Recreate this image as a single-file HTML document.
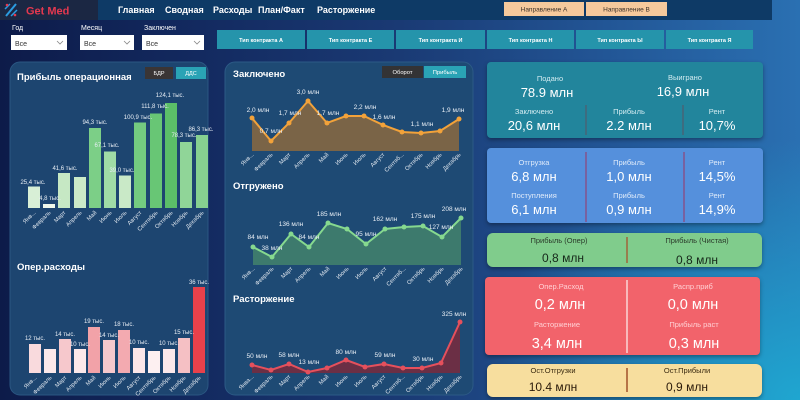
<!DOCTYPE html>
<html><head><meta charset="utf-8">
<style>
html,body{margin:0;padding:0;}
body{width:800px;height:400px;overflow:hidden;
background:radial-gradient(ellipse 320px 260px at 800px 400px,#1fa6d0 0%,rgba(31,166,208,0) 100%),linear-gradient(90deg,#0d1b49 0%,#132a60 25%,#1a3a74 50%,#225595 75%,#2a70b2 100%);
font-family:"Liberation Sans","Noto Sans CJK SC",sans-serif;}
svg{position:absolute;left:0;top:0;}
text{font-family:"Liberation Sans","Noto Sans CJK SC",sans-serif;}
</style></head><body>
<svg width="800" height="400" viewBox="0 0 800 400" xmlns="http://www.w3.org/2000/svg">
<!-- header -->
<rect x="0" y="0" width="772" height="20" fill="#0e3a66"/>
<rect x="0" y="0" width="98" height="20" fill="#1b2743"/>
<line x1="6" y1="16" x2="16" y2="4" stroke="#2b9be0" stroke-width="2"/>
<line x1="5" y1="9" x2="10" y2="4" stroke="#2b9be0" stroke-width="1.5"/>
<line x1="11" y1="16" x2="17" y2="10" stroke="#2b9be0" stroke-width="1.5"/>
<circle cx="7" cy="5" r="1.3" fill="#e5384f"/><circle cx="15" cy="15" r="1.3" fill="#e5384f"/>
<text x="26" y="14.5" font-size="11" font-weight="bold" fill="#e5384f">Get Med</text>
<g font-size="9" font-weight="bold" fill="#ffffff">
<text x="118" y="13">Главная</text>
<text x="165" y="13">Сводная</text>
<text x="213" y="13">Расходы</text>
<text x="258" y="13">План/Факт</text>
<text x="317" y="13">Расторжение</text>
</g>
<rect x="504" y="2" width="80" height="14" fill="#f5c99c"/>
<rect x="586" y="2" width="81" height="14" fill="#f5c99c"/>
<g font-size="6.5" fill="#3a3028" text-anchor="middle">
<text x="544" y="11.5">Направление А</text>
<text x="626.5" y="11.5">Направление B</text>
</g>
<!-- filters -->
<g font-size="7" fill="#ffffff">
<text x="12" y="30">Год</text><text x="81" y="30">Месяц</text><text x="144" y="30">Заключен</text>
</g>
<rect x="11" y="35" width="56" height="15" fill="#ffffff"/>
<rect x="80" y="35" width="54" height="15" fill="#ffffff"/>
<rect x="142" y="35" width="62" height="15" fill="#ffffff"/>
<g font-size="7" fill="#333">
<text x="15" y="46">Все</text><text x="84" y="46">Все</text><text x="146" y="46">Все</text>
</g>
<g fill="none" stroke="#888" stroke-width="0.8">
<polyline points="57,41 60,44 63,41"/><polyline points="124,41 127,44 130,41"/><polyline points="194,41 197,44 200,41"/>
</g>
<!-- contract buttons -->
<g fill="#2594ab">
<rect x="217" y="30" width="88" height="19"/><rect x="307" y="30" width="87" height="19"/>
<rect x="396" y="30" width="89" height="19"/><rect x="487" y="30" width="87" height="19"/>
<rect x="576" y="30" width="88" height="19"/><rect x="666" y="30" width="87" height="19"/>
</g>
<g font-size="5.5" font-weight="bold" fill="#ffffff" text-anchor="middle">
<text x="261" y="42">Тип контракта А</text><text x="350.5" y="42">Тип контракта Е</text>
<text x="440.5" y="42">Тип контракта И</text><text x="530.5" y="42">Тип контракта Н</text>
<text x="620" y="42">Тип контракта Ы</text><text x="709.5" y="42">Тип контракта Я</text>
</g>
<!-- panels -->
<rect x="10" y="62" width="198" height="333" rx="10" fill="#1d4570" stroke="#2a5682" stroke-width="1"/>
<rect x="225" y="62" width="248" height="333" rx="10" fill="#1e4a74" stroke="#2c5a86" stroke-width="1"/>

<!-- left panel: profit -->
<text x="17" y="80" font-size="9.5" font-weight="bold" fill="#ffffff">Прибыль операционная</text>
<rect x="145" y="67" width="28" height="12" fill="#3a3535"/>
<rect x="176" y="67" width="30" height="12" fill="#2aa3b5"/>
<g font-size="5.5" fill="#ffffff" text-anchor="middle"><text x="159" y="75">БДР</text><text x="191" y="75">ДДС</text></g>
<g>
<rect x="28" y="186.5" width="12" height="21.5" fill="#d8efd6"/>
<rect x="43" y="204" width="12" height="4" fill="#eef8ec"/>
<rect x="58" y="173" width="12" height="35" fill="#c6e8c4"/>
<rect x="74" y="177" width="12" height="31" fill="#cbeac8"/>
<rect x="89" y="128" width="12" height="80" fill="#7ccf87"/>
<rect x="104" y="151.5" width="12" height="56.5" fill="#a0dca6"/>
<rect x="119" y="175.5" width="12" height="32.5" fill="#c9e9c7"/>
<rect x="134" y="122.5" width="12" height="85.5" fill="#74cb80"/>
<rect x="150" y="113.5" width="12" height="94.5" fill="#68c675"/>
<rect x="165" y="103" width="12" height="105" fill="#5bbf68"/>
<rect x="180" y="142" width="12" height="66" fill="#90d598"/>
<rect x="196" y="135" width="12" height="73" fill="#86d190"/>
</g>
<g font-size="6" fill="#e8eef5" text-anchor="middle">
<text x="33" y="184">25,4 тыс.</text><text x="50" y="200">4,8 тыс.</text>
<text x="65" y="170">41,6 тыс.</text><text x="95" y="124">94,3 тыс.</text>
<text x="107" y="147">67,1 тыс.</text><text x="122" y="172">39,0 тыс.</text>
<text x="138" y="119">100,9 тыс.</text><text x="155" y="108">111,8 тыс.</text>
<text x="170" y="97">124,1 тыс.</text><text x="184" y="137">78,3 тыс.</text>
<text x="201" y="131">86,3 тыс.</text>
</g>
<g font-size="5.8" fill="#dfe6ee" text-anchor="end">
<text transform="translate(36,213) rotate(-45)">Янв...</text>
<text transform="translate(51,213) rotate(-45)">Февраль</text>
<text transform="translate(66,213) rotate(-45)">Март</text>
<text transform="translate(82,213) rotate(-45)">Апрель</text>
<text transform="translate(97,213) rotate(-45)">Май</text>
<text transform="translate(112,213) rotate(-45)">Июнь</text>
<text transform="translate(127,213) rotate(-45)">Июль</text>
<text transform="translate(142,213) rotate(-45)">Август</text>
<text transform="translate(158,213) rotate(-45)">Сентябрь</text>
<text transform="translate(173,213) rotate(-45)">Октябрь</text>
<text transform="translate(188,213) rotate(-45)">Ноябрь</text>
<text transform="translate(204,213) rotate(-45)">Декабрь</text>
</g>

<!-- left panel: opex -->
<text x="17" y="270" font-size="9.5" font-weight="bold" fill="#ffffff">Опер.расходы</text>
<g>
<rect x="29" y="344" width="12" height="29" fill="#f9dadd"/>
<rect x="44" y="349" width="12" height="24" fill="#fbe8ea"/>
<rect x="59" y="339" width="12" height="34" fill="#f6c8cc"/>
<rect x="74" y="349" width="12" height="24" fill="#fbe8ea"/>
<rect x="88" y="327" width="12" height="46" fill="#f2a2a8"/>
<rect x="103" y="340" width="12" height="33" fill="#f6c8cc"/>
<rect x="118" y="330" width="12" height="43" fill="#f3aab0"/>
<rect x="133" y="348" width="12" height="25" fill="#fbe6e8"/>
<rect x="148" y="351" width="12" height="22" fill="#fdf0f1"/>
<rect x="163" y="349" width="12" height="24" fill="#fbe8ea"/>
<rect x="178" y="338" width="12" height="35" fill="#f5c0c4"/>
<rect x="193" y="287" width="12" height="86" fill="#e8414b"/>
</g>
<g font-size="6" fill="#e8eef5" text-anchor="middle">
<text x="35" y="340">12 тыс.</text><text x="65" y="336">14 тыс.</text>
<text x="80" y="346">10 тыс.</text><text x="94" y="323">19 тыс.</text>
<text x="109" y="337">14 тыс.</text><text x="124" y="326">18 тыс.</text>
<text x="139" y="344">10 тыс.</text><text x="169" y="345">10 тыс.</text>
<text x="184" y="334">15 тыс.</text><text x="199" y="284">36 тыс.</text>
</g>
<g font-size="5.8" fill="#dfe6ee" text-anchor="end">
<text transform="translate(37,378) rotate(-45)">Янв...</text>
<text transform="translate(52,378) rotate(-45)">Февраль</text>
<text transform="translate(67,378) rotate(-45)">Март</text>
<text transform="translate(82,378) rotate(-45)">Апрель</text>
<text transform="translate(96,378) rotate(-45)">Май</text>
<text transform="translate(111,378) rotate(-45)">Июнь</text>
<text transform="translate(126,378) rotate(-45)">Июль</text>
<text transform="translate(141,378) rotate(-45)">Август</text>
<text transform="translate(156,378) rotate(-45)">Сентябрь</text>
<text transform="translate(171,378) rotate(-45)">Октябрь</text>
<text transform="translate(186,378) rotate(-45)">Ноябрь</text>
<text transform="translate(201,378) rotate(-45)">Декабрь</text>
</g>

<!-- middle: Заключено -->
<text x="233" y="77" font-size="9.5" font-weight="bold" fill="#ffffff">Заключено</text>
<rect x="382" y="66" width="41" height="12" fill="#333335"/>
<rect x="424" y="66" width="42" height="12" fill="#2aa3b5"/>
<g font-size="5.8" fill="#ffffff" text-anchor="middle"><text x="402.5" y="74">Оборот</text><text x="445" y="74">Прибыль</text></g>
<polygon points="252,151 252,118 271,141 289,123 308,101 327,123 346,116 364,116 383,125 402,132 421,133 440,131 459,119 459,151" fill="#7a6447"/>
<polyline points="252,118 271,141 289,123 308,101 327,123 346,116 364,116 383,125 402,132 421,133 440,131 459,119" fill="none" stroke="#f2a23a" stroke-width="2"/>
<g fill="#f2a23a">
<circle cx="252" cy="118" r="2.5"/><circle cx="271" cy="141" r="2.5"/><circle cx="289" cy="123" r="2.5"/><circle cx="308" cy="101" r="2.5"/><circle cx="327" cy="123" r="2.5"/><circle cx="346" cy="116" r="2.5"/><circle cx="364" cy="116" r="2.5"/><circle cx="383" cy="125" r="2.5"/><circle cx="402" cy="132" r="2.5"/><circle cx="421" cy="133" r="2.5"/><circle cx="440" cy="131" r="2.5"/><circle cx="459" cy="119" r="2.5"/>
</g>
<g font-size="6.5" fill="#e8eef5" text-anchor="middle">
<text x="258" y="112">2,0 млн</text><text x="271" y="133">0,7 млн</text><text x="290" y="115">1,7 млн</text>
<text x="308" y="94">3,0 млн</text><text x="328" y="115">1,7 млн</text><text x="365" y="109">2,2 млн</text>
<text x="384" y="119">1,6 млн</text><text x="422" y="126">1,1 млн</text><text x="453" y="112">1,9 млн</text>
</g>
<g font-size="5.8" fill="#dfe6ee" text-anchor="end">
<text transform="translate(254,155) rotate(-45)">Янв...</text>
<text transform="translate(273,155) rotate(-45)">Февраль</text>
<text transform="translate(291,155) rotate(-45)">Март</text>
<text transform="translate(310,155) rotate(-45)">Апрель</text>
<text transform="translate(329,155) rotate(-45)">Май</text>
<text transform="translate(348,155) rotate(-45)">Июнь</text>
<text transform="translate(366,155) rotate(-45)">Июль</text>
<text transform="translate(385,155) rotate(-45)">Август</text>
<text transform="translate(404,155) rotate(-45)">Сентяб...</text>
<text transform="translate(423,155) rotate(-45)">Октябрь</text>
<text transform="translate(442,155) rotate(-45)">Ноябрь</text>
<text transform="translate(461,155) rotate(-45)">Декабрь</text>
</g>

<!-- middle: Отгружено -->
<text x="233" y="189" font-size="9.5" font-weight="bold" fill="#ffffff">Отгружено</text>
<polygon points="253,265 253,247 272,257 291,234 309,247 328,223 347,229 366,244 385,229 404,227 423,226 442,237 461,218 461,265" fill="#3d7a6d"/>
<polyline points="253,247 272,257 291,234 309,247 328,223 347,229 366,244 385,229 404,227 423,226 442,237 461,218" fill="none" stroke="#86d98f" stroke-width="2"/>
<g fill="#86d98f">
<circle cx="253" cy="247" r="2.5"/><circle cx="272" cy="257" r="2.5"/><circle cx="291" cy="234" r="2.5"/><circle cx="309" cy="247" r="2.5"/><circle cx="328" cy="223" r="2.5"/><circle cx="347" cy="229" r="2.5"/><circle cx="366" cy="244" r="2.5"/><circle cx="385" cy="229" r="2.5"/><circle cx="404" cy="227" r="2.5"/><circle cx="423" cy="226" r="2.5"/><circle cx="442" cy="237" r="2.5"/><circle cx="461" cy="218" r="2.5"/>
</g>
<g font-size="6.5" fill="#e8eef5" text-anchor="middle">
<text x="258" y="239">84 млн</text><text x="272" y="250">38 млн</text><text x="291" y="226">136 млн</text>
<text x="309" y="239">84 млн</text><text x="329" y="216">185 млн</text><text x="366" y="236">95 млн</text>
<text x="385" y="221">162 млн</text><text x="423" y="218">175 млн</text><text x="441" y="229">127 млн</text>
<text x="454" y="211">208 млн</text>
</g>
<g font-size="5.8" fill="#dfe6ee" text-anchor="end">
<text transform="translate(255,269) rotate(-45)">Янв...</text>
<text transform="translate(274,269) rotate(-45)">Февраль</text>
<text transform="translate(293,269) rotate(-45)">Март</text>
<text transform="translate(311,269) rotate(-45)">Апрель</text>
<text transform="translate(330,269) rotate(-45)">Май</text>
<text transform="translate(349,269) rotate(-45)">Июнь</text>
<text transform="translate(368,269) rotate(-45)">Июль</text>
<text transform="translate(387,269) rotate(-45)">Август</text>
<text transform="translate(406,269) rotate(-45)">Сентяб...</text>
<text transform="translate(425,269) rotate(-45)">Октябрь</text>
<text transform="translate(444,269) rotate(-45)">Ноябрь</text>
<text transform="translate(463,269) rotate(-45)">Декабрь</text>
</g>

<!-- middle: Расторжение -->
<text x="233" y="302" font-size="9.5" font-weight="bold" fill="#ffffff">Расторжение</text>
<polygon points="252,373 252,365 271,370 289,364 308,372 327,368 346,360 365,367 384,364 403,368 422,368 441,363 460,322 460,373" fill="#6b2f45"/>
<polyline points="252,365 271,370 289,364 308,372 327,368 346,360 365,367 384,364 403,368 422,368 441,363 460,322" fill="none" stroke="#e5505c" stroke-width="2"/>
<g fill="#e5505c">
<circle cx="252" cy="365" r="2.5"/><circle cx="271" cy="370" r="2.5"/><circle cx="289" cy="364" r="2.5"/><circle cx="308" cy="372" r="2.5"/><circle cx="327" cy="368" r="2.5"/><circle cx="346" cy="360" r="2.5"/><circle cx="365" cy="367" r="2.5"/><circle cx="384" cy="364" r="2.5"/><circle cx="403" cy="368" r="2.5"/><circle cx="422" cy="368" r="2.5"/><circle cx="441" cy="363" r="2.5"/><circle cx="460" cy="322" r="2.5"/>
</g>
<g font-size="6.5" fill="#e8eef5" text-anchor="middle">
<text x="257" y="358">50 млн</text><text x="289" y="357">58 млн</text><text x="309" y="364">13 млн</text>
<text x="346" y="354">80 млн</text><text x="385" y="357">59 млн</text><text x="423" y="361">30 млн</text>
<text x="454" y="316">325 млн</text>
</g>
<g font-size="5.8" fill="#dfe6ee" text-anchor="end">
<text transform="translate(254,377) rotate(-45)">Янва...</text>
<text transform="translate(273,377) rotate(-45)">Февраль</text>
<text transform="translate(291,377) rotate(-45)">Март</text>
<text transform="translate(310,377) rotate(-45)">Апрель</text>
<text transform="translate(329,377) rotate(-45)">Май</text>
<text transform="translate(348,377) rotate(-45)">Июнь</text>
<text transform="translate(367,377) rotate(-45)">Июль</text>
<text transform="translate(386,377) rotate(-45)">Август</text>
<text transform="translate(405,377) rotate(-45)">Сентяб...</text>
<text transform="translate(424,377) rotate(-45)">Октябрь</text>
<text transform="translate(443,377) rotate(-45)">Ноябрь</text>
<text transform="translate(462,377) rotate(-45)">Декабрь</text>
</g>

<!-- right cards -->
<g style="filter:drop-shadow(0 2px 2px rgba(0,0,0,0.35))">
<rect x="487" y="62" width="276" height="76" rx="4" fill="#22859c"/>
<rect x="487" y="148" width="276" height="75" rx="4" fill="#5590dc"/>
<rect x="487" y="233" width="275" height="34" rx="6" fill="#80cc8c"/>
<rect x="485" y="277" width="275" height="78" rx="4" fill="#f2636b"/>
<rect x="487" y="364" width="275" height="33" rx="6" fill="#f7de9e"/>
</g>
<!-- card1 -->
<line x1="586" y1="105" x2="586" y2="135" stroke="#3e6c80" stroke-width="2"/>
<line x1="683" y1="105" x2="683" y2="135" stroke="#3e6c80" stroke-width="2"/>
<g font-size="7.5" fill="#d3ecf1" text-anchor="middle">
<text x="550" y="81">Подано</text><text x="685" y="80">Выиграно</text>
<text x="534" y="114">Заключено</text><text x="629" y="114">Прибыль</text><text x="717" y="114">Рент</text>
</g>
<g font-size="13" fill="#ffffff" text-anchor="middle">
<text x="547" y="97">78.9 млн</text><text x="683" y="96">16,9 млн</text>
<text x="534" y="130">20,6 млн</text><text x="629" y="130">2.2 млн</text><text x="717" y="130">10,7%</text>
</g>
<!-- card2 -->
<line x1="586" y1="152" x2="586" y2="222" stroke="#7862a0" stroke-width="2"/>
<line x1="684" y1="152" x2="684" y2="222" stroke="#7862a0" stroke-width="2"/>
<g font-size="7.5" fill="#e0ebfa" text-anchor="middle">
<text x="534" y="165">Отгрузка</text><text x="629" y="165">Прибыль</text><text x="717" y="165">Рент</text>
<text x="534" y="198">Поступления</text><text x="629" y="198">Прибыль</text><text x="717" y="198">Рент</text>
</g>
<g font-size="13" fill="#ffffff" text-anchor="middle">
<text x="534" y="181">6,8 млн</text><text x="629" y="181">1,0 млн</text><text x="717" y="181">14,5%</text>
<text x="534" y="214">6,1 млн</text><text x="629" y="214">0,9 млн</text><text x="717" y="214">14,9%</text>
</g>
<!-- card3 -->
<line x1="627" y1="237" x2="627" y2="263" stroke="#a0643a" stroke-width="1.5"/>
<g font-size="7.5" fill="#2a3a2a" text-anchor="middle">
<text x="559" y="243">Прибыль (Опер)</text><text x="697" y="243">Прибыль (Чистая)</text>
</g>
<g font-size="12" fill="#16281a" text-anchor="middle">
<text x="563" y="262">0,8 млн</text><text x="697" y="264">0,8 млн</text>
</g>
<!-- card4 -->
<line x1="627" y1="280" x2="627" y2="353" stroke="#fbd6d8" stroke-width="1.5"/>
<g font-size="7.5" fill="#ffd0d4" text-anchor="middle">
<text x="561" y="289">Опер.Расход</text><text x="693" y="289">Распр.приб</text>
<text x="557" y="327">Расторжение</text><text x="694" y="327">Прибыль раст</text>
</g>
<g font-size="14.5" fill="#ffffff" text-anchor="middle">
<text x="560" y="309">0,2 млн</text><text x="693" y="309">0,0 млн</text>
<text x="557" y="348">3,4 млн</text><text x="694" y="348">0,3 млн</text>
</g>
<!-- card5 -->
<line x1="627" y1="368" x2="627" y2="392" stroke="#a0502a" stroke-width="1.5"/>
<g font-size="7.5" fill="#3a2a10" text-anchor="middle">
<text x="553" y="373">Ост.Отгрузки</text><text x="687" y="373">Ост.Прибыли</text>
</g>
<g font-size="12" fill="#2a1a0a" text-anchor="middle">
<text x="553" y="391">10.4 млн</text><text x="687" y="391">0,9 млн</text>
</g>
</svg>
</body></html>
